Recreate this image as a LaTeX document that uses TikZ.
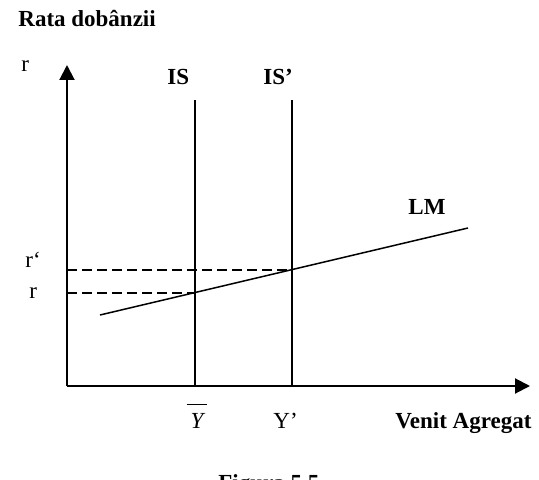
\documentclass[tikz,border=0pt]{standalone}
\usepackage{fontspec}
\setmainfont{Liberation Serif}
\usetikzlibrary{arrows.meta}

\begin{document}
\begin{tikzpicture}[
  x=0.5pt, y=-0.5pt,
  font=\fontsize{11.5}{13}\selectfont,
  every node/.style={inner sep=0pt},
  axis/.style ={line width=1pt, -{Triangle[length=7.5pt,width=7.5pt]}},
  curve/.style={line width=0.75pt},
  guide/.style={line width=1pt, dash pattern=on 5pt off 2.5pt},
  lbl/.style  ={font=\fontsize{11.5}{13}\selectfont\bfseries},
]
\useasboundingbox (0,0) rectangle (539,480);

% Axes
\coordinate (O)    at (67,386);
\coordinate (ytip) at (67,65);
\coordinate (xtip) at (530,386);
\draw[axis] (O) -- (ytip);
\draw[axis] (O) -- (xtip);

% IS, IS' and LM
\coordinate (is0)  at (195,386);
\coordinate (is1)  at (195,100);
\coordinate (isp0) at (292,386);
\coordinate (isp1) at (292,100);
\coordinate (lm0)  at (100,315);
\coordinate (lm1)  at (468,228);
\draw[curve] (is0)  -- (is1);
\draw[curve] (isp0) -- (isp1);
\draw[curve] (lm0)  -- (lm1);

% Equilibrium points and guides
\coordinate (E)  at (intersection of lm0--lm1 and is0--is1);
\coordinate (Ep) at (intersection of lm0--lm1 and isp0--isp1);
\draw[guide] (O |- E)  -- (E);
\draw[guide] (O |- Ep) -- (Ep);

% -------- labels ----------------------------------------------------------
\node[lbl, anchor=base west] (title) at (18,27)  {Rata dobânzii};
\node[anchor=base west]      (rax)   at (21,72)  {r};
\node[lbl, anchor=base west] (lis)   at (167,85) {IS};
\node[lbl, anchor=base west] (lisp)  at (263,85) {IS’};
\node[lbl, anchor=base west] (llm)   at (408,215) {LM};
\node[anchor=base west]      (lrp)   at (25,267) {r‘};
\node[anchor=base west]      (lr)    at (29,298) {r};
\node[anchor=base]           (lyb)   at (197,428)
     {$\overline{\rule{0pt}{10.5pt}\,\mbox{\itshape Y}\,}$};
\node[anchor=base west]      (lyp)   at (273,428) {Y’};
\node[lbl, anchor=base west] (lx)    at (395,428) {Venit Agregat};
\node[lbl, anchor=base west] (fig)   at (218,490) {Figura 5.5};

\end{tikzpicture}
\end{document}
